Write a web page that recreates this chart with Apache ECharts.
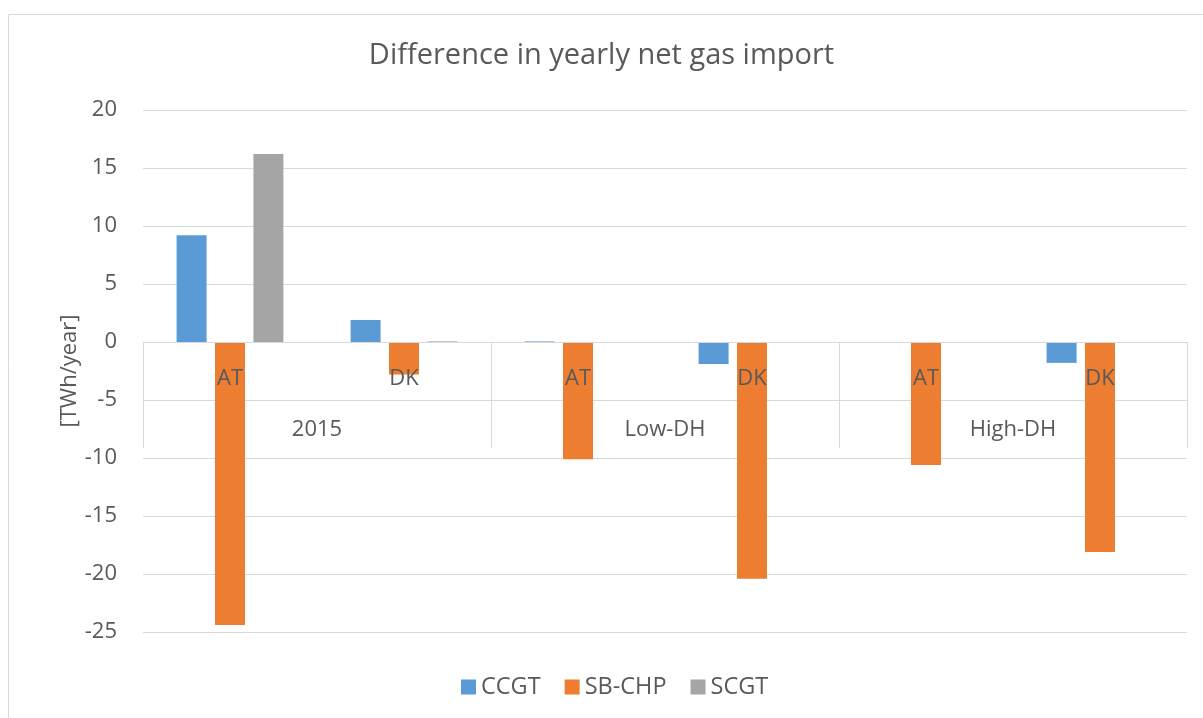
<!DOCTYPE html>
<html>
<head>
<meta charset="utf-8">
<script src="https://cdn.jsdelivr.net/npm/echarts@6/dist/echarts.min.js"></script>
<style>
html,body{margin:0;padding:0;background:#fff;}
#chart{width:1203px;height:718px;}
</style>
</head>
<body>
<div id="chart"></div>
<script>
const titleText = 'Difference in yearly net gas import';
const yAxisName = '[TWh/year]';
const categories = ['AT', 'DK', 'AT', 'DK', 'AT', 'DK'];
const groups = ['2015', 'Low-DH', 'High-DH'];
const seriesNames = ['CCGT', 'SB-CHP', 'SCGT'];
const ccgt = [9.2, 1.9, 0.05, -1.9, 0, -1.8];
const sbchp = [-24.4, -2.8, -10.1, -20.4, -10.6, -18.1];
const scgt = [16.2, 0.05, 0, 0, 0, 0];
const colors = ['#5B9BD5', '#ED7D31', '#A5A5A5'];

const FONT = 'Open Sans';
const TXT = '#595959';
const GRID = '#D9D9D9';

const chart = echarts.init(document.getElementById('chart'));
const values = [ccgt, sbchp, scgt];
chart.setOption({
  backgroundColor: '#fff',
  animation: false,
  color: colors,
  title: {
    text: titleText,
    left: 'center',
    top: 36,
    textStyle: { fontFamily: FONT, fontSize: 29, fontWeight: 'normal', color: TXT }
  },
  graphic: [{
    type: 'rect',
    shape: { x: 8.5, y: 14.5, width: 1300, height: 800 },
    style: { fill: 'none', stroke: GRID, lineWidth: 1 },
    silent: true
  }],
  legend: {
    top: 670,
    left: 456,
    itemWidth: 15,
    itemHeight: 15,
    itemGap: 24,
    icon: 'rect',
    textStyle: { fontFamily: FONT, fontSize: 23.5, color: TXT },
    data: seriesNames
  },
  grid: { left: 143, right: 16, top: 110, bottom: 86, containLabel: false },
  xAxis: [
    {
      type: 'category',
      data: categories,
      position: 'bottom',
      offset: -290,
      z: 10,
      axisLine: { show: true, onZero: false, lineStyle: { color: GRID, width: 1 } },
      axisTick: { show: false },
      axisLabel: { fontFamily: FONT, fontSize: 22, color: TXT, margin: 26 },
      splitLine: { show: false }
    },
    {
      type: 'category',
      data: groups,
      position: 'bottom',
      offset: -290,
      z: 1,
      axisLine: { show: false, onZero: false },
      axisTick: { show: true, length: 106, lineStyle: { color: GRID, width: 1 } },
      axisLabel: { fontFamily: FONT, fontSize: 22, color: TXT, margin: 77 },
      splitLine: { show: false }
    }
  ],
  yAxis: {
    type: 'value',
    min: -25,
    max: 20,
    interval: 5,
    name: yAxisName,
    nameLocation: 'middle',
    nameGap: 62,
    nameMoveOverlap: false,
    nameRotate: 90,
    nameTextStyle: { fontFamily: FONT, fontSize: 22, color: TXT },
    axisLine: { show: false },
    axisTick: { show: false },
    axisLabel: { fontFamily: FONT, fontSize: 22, color: TXT, margin: 26 },
    splitLine: { show: true, lineStyle: { color: GRID, width: 1 } }
  },
  series: seriesNames.map((n, i) => ({
    name: n,
    type: 'bar',
    xAxisIndex: 0,
    data: values[i],
    barWidth: 30,
    barGap: '28%',
    itemStyle: { color: colors[i] }
  }))
});
</script>
</body>
</html>
